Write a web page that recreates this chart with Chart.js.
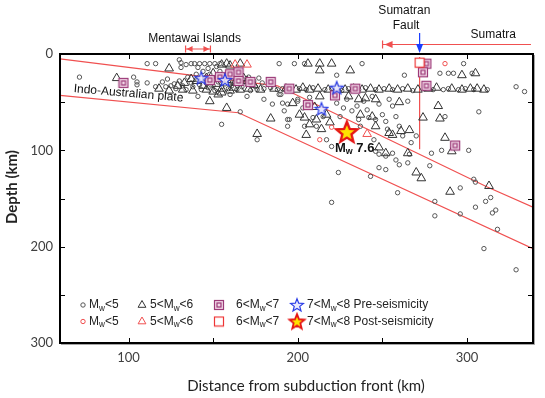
<!DOCTYPE html>
<html><head><meta charset="utf-8">
<script src="https://cdn.jsdelivr.net/npm/chart.js@4.4.1/dist/chart.umd.min.js"></script>
<style>html,body{margin:0;padding:0;background:#fff}canvas{display:block}</style>
</head><body>
<canvas id="c" width="545" height="398"></canvas>
<script>
// ---------- tick labels ----------
const xTickValues = [100, 150, 200, 250, 300];
const xTickLabels = {100: '100', 200: '200', 300: '300'};
const yTickValues = [0, 50, 100, 150, 200, 250, 300];
const yTickLabels = {0: '0', 100: '100', 200: '200', 300: '300'};
const xTitle = 'Distance from subduction front (km)';
const yTitle = 'Depth (km)';

// ---------- plate boundary / fault lines [km, depth] ----------
const slabTop = [[59.5,5],[188,33],[312,138],[339,159]];
const slabBottom = [[59.5,43],[165,61],[339,202]];
const sumatranFault = [[272,3],[272,99]];

// ---------- Pre-seismicity ----------
const mw5Pre = [
 [71,24],[103,24],[105,29],[105,32],[111,30],[116,34],[122,34],[127,31],
 [111,10],[116,10],[130,6],[131,9],[131,14],
 [134,11],[137,10],[139,10],[142,10],[145,10],[148,10],[151,10],[154,10],[141,14],[147,15],[152,13],
 [189,10],[198,10],[204,10],[238,10],[298,10],
 [120,29],[123,26],[125,33],[128,36],[130,28],[132,33],[134,37],[135,24],[137,30],[138,34],[140,21],[141,27],
 [142,32],[143,37],[144,18],[145,25],[146,30],[147,35],[148,21],[149,27],[150,33],[151,38],[152,24],[153,29],
 [154,18],[155,34],[156,25],[157,31],[158,21],[159,36],[160,28],[161,33],[162,19],[163,25],[164,37],[165,31],
 [166,22],[167,34],[168,27],[170,31],[171,24],[172,38],[174,28],[175,34],[177,25],[179,30],
 [141,44],[155,73],[166,60],[160,42],[170,44],[176,89],[180,47],[185,52],[190,42],[194,52],[194,68],[194,75],[200,47],
 [176,37],[180,36],[184,35],[188,37],[191,36],[196,38],[201,36],[205,37],[209,35],[216,37],[220,36],[226,38],
 [230,36],[236,37],[240,35],[246,37],[251,36],[256,37],[262,36],[268,38],[275,36],[280,37],[286,37],[289,36],
 [295,37],[299,36],[304,37],[312,37],
 [223,22],[263,22],[284,20],[289,20],[292,20],[303,20],[329,34],[334,39],
 [189,42],[191,51],[192,59],[195,68],[200,49],[203,56],[204,75],[207,45],[209,66],[211,75],[215,65],[217,89],
 [220,96],[223,51],[225,65],[227,56],[229,47],[232,59],[235,54],[236,68],[237,75],[239,49],[241,58],[242,66],
 [244,44],[245,89],[246,68],[248,52],[250,63],[252,70],[253,78],[254,47],[256,54],[258,65],[260,75],[262,85],
 [265,49],[267,92],[270,85],
 [246,101],[248,104],[252,106],[256,103],[258,110],[260,115],[266,104],[265,113],
 [224,123],[243,127],[248,118],[252,120],[279,103],[278,116],[285,100],[301,100],[304,130],[307,60],[287,65],
 [220,154],[259,144],[281,153],[281,168],[296,166],[305,159],[311,153],[314,149],[315,165],[317,162],
 [318,182],[310,202],[329,224],[296,139],[305,133]
];
const mw56Pre = [
 [93,25],[124,15],
 [155,11],[158,10],[160,12],[166,10],[206,10],[213,10],[220,10],[213,17],[231,17],[297,22],[305,20],
 [140,28],[146,25],[152,31],[158,27],[163,30],[168,25],[150,20],[144,33],[155,40],[133,30],[137,26],[129,33],
 [162,35],[170,28],[174,32],
 [118,36],[124,38],[132,37],[138,38],[146,37],[150,39],[155,36],[160,38],[166,37],[171,36],[178,37],[186,36],
 [193,36],[199,37],[203,35],[207,37],[212,36],[218,37],[223,36],[228,37],[233,36],[238,37],[243,36],[248,37],
 [254,36],[259,37],[265,36],[271,37],[277,36],[282,35],[291,36],[297,37],[302,36],[306,36],[310,37],
 [148,49],[153,42],[158,56],[184,67],[176,83],[205,84],
 [197,51],[201,63],[204,66],[210,55],[213,44],[217,63],[222,44],[230,44],[236,47],[240,46],[246,47],[260,50],
 [211,68],[214,78],[219,71],[207,73],[237,63],[244,65],[246,75],[254,82],[256,84],[261,80],[266,79],
 [248,97],[252,103],[265,103],
 [270,123],[273,129],[274,66],[283,54],[284,67],[287,87],[291,101],[290,143],[313,137]
];
const mw67Pre = [[97,30],[148,27],[154,24],[160,21],[165,19],[165,28],[172,29],[184,29],[195,36],[206,53],
 [222,43],[234,36],[276,10],[274,19],[276,33],[293,95]];
const mw78Pre = [[143,25],[157,27],[223,35],[214,57]];

// ---------- Post-seismicity ----------
const mw5Post = [[287,10],[220,76],[213,89]];
const mw56Post = [[163,11],[170,11],[241,83]];
const mw67Post = [[272,9]];
const mw78Post = [[229,81]];

// ---------- texts ----------
const legendRows = [
 [['M',{sub:'w'},'<5'], ['5<M',{sub:'w'},'<6'], ['6<M',{sub:'w'},'<7'], ['7<M',{sub:'w'},'<8 Pre-seismicity']],
 [['M',{sub:'w'},'<5'], ['5<M',{sub:'w'},'<6'], ['6<M',{sub:'w'},'<7'], ['7<M',{sub:'w'},'<8 Post-seismicity']]
];
const plateLabel = 'Indo-Australian plate';
const quakeLabel = ['M',{sub:'w'},' 7.6'];

const FONT = "'Liberation Sans', Arial, sans-serif";
const RED = '#f05050';

function starPath(g, cx, cy, R, r){
  g.beginPath();
  for (let i=0;i<10;i++){
    const a=-Math.PI/2+i*Math.PI/5, rr=i%2?r:R;
    const x=cx+rr*Math.cos(a), y=cy+rr*Math.sin(a);
    i?g.lineTo(x,y):g.moveTo(x,y);
  }
  g.closePath();
}
function mkImg(w,h,fn){const c=document.createElement('canvas');c.width=w;c.height=h;fn(c.getContext('2d'));return c;}
const imgDblSq = mkImg(12,12,g=>{g.fillStyle='#f3d9e8';g.fillRect(1.5,1.5,9,9);g.strokeStyle='#9c3a78';g.lineWidth=1.2;g.strokeRect(1.5,1.5,9,9);g.strokeRect(4,4,4,4);});
const imgRedSq = mkImg(12,12,g=>{g.fillStyle='#fff';g.fillRect(1.5,1.5,9,9);g.strokeStyle='#ee3535';g.lineWidth=1.2;g.strokeRect(1.5,1.5,9,9);});
const imgBlueStar = mkImg(16,16,g=>{starPath(g,8,8.5,6.8,2.9);g.fillStyle='rgba(228,228,255,0.85)';g.fill();g.strokeStyle='#2b3de6';g.lineWidth=1.2;g.stroke();});
const imgPostStar = mkImg(26,26,g=>{starPath(g,13,13.8,11,4.8);g.fillStyle='#ffe400';g.fill();g.strokeStyle='#e51515';g.lineWidth=2.4;g.lineJoin='miter';g.stroke();});
const imgPostStarSmall = mkImg(20,20,g=>{starPath(g,10,10.6,8,3.5);g.fillStyle='#ffe400';g.fill();g.strokeStyle='#e51515';g.lineWidth=1.8;g.stroke();});

const pts = a => a.map(([x,y])=>({x,y}));
function lineDs(d){return {data:pts(d),showLine:true,borderColor:RED,borderWidth:1.2,pointRadius:0,order:100,clip:0};}
function ptDs(d,style,r,col,bg,order){
  return {data:pts(d),showLine:false,pointStyle:style,pointRadius:r,pointHoverRadius:r,
    pointBorderColor:col,pointBackgroundColor:bg,pointBorderWidth:1,order:order};
}

function drawRich(g, x, y, segs, size, weight){
  let cx=x;
  g.textAlign='left'; g.textBaseline='middle';
  for (const s of segs){
    const sub=typeof s==='object', t=sub?s.sub:s, fs=sub?size*0.68:size;
    g.font=`${weight||'normal'} ${fs}px ${FONT}`;
    g.fillText(t, cx, y+(sub?size*0.3:0));
    cx+=g.measureText(t).width;
  }
}

const deco = {
  id:'deco',
  afterDatasetsDraw(chart){
    const g=chart.ctx, a=chart.chartArea, xs=chart.scales.x, ys=chart.scales.y;
    g.save();
    // frame
    g.strokeStyle='#000'; g.lineWidth=2;
    g.strokeRect(a.left, a.top, a.right-a.left, a.bottom-a.top);
    g.strokeStyle='rgba(0,0,0,0.35)'; g.lineWidth=1;
    g.beginPath(); g.moveTo(a.right+1.5,a.top+1); g.lineTo(a.right+1.5,a.bottom+1.5); g.lineTo(a.left+1,a.bottom+1.5); g.stroke();
    // inward ticks
    g.strokeStyle='#000'; g.lineWidth=1;
    g.beginPath();
    xTickValues.forEach(v=>{const p=Math.round(xs.getPixelForValue(v))+0.5;
      g.moveTo(p,a.bottom);g.lineTo(p,a.bottom-5);g.moveTo(p,a.top);g.lineTo(p,a.top+5);});
    yTickValues.filter(v=>v>0&&v<300).forEach(v=>{const p=Math.round(ys.getPixelForValue(v))+0.5;
      g.moveTo(a.left,p);g.lineTo(a.left+5,p);g.moveTo(a.right,p);g.lineTo(a.right-5,p);});
    g.stroke();

    // axis titles
    g.fillStyle='#222'; g.textAlign='center'; g.textBaseline='middle';
    g.font="15px Lato, sans-serif";
    g.fillText(xTitle, a.left+246, a.bottom+43);
    g.save(); g.translate(12, a.top+133); g.rotate(-Math.PI/2);
    g.font="bold 15px Lato, sans-serif"; g.fillText(yTitle,0,0); g.restore();

    // plate label
    g.fillStyle='#111';
    g.save();
    g.translate(xs.getPixelForValue(100), ys.getPixelForValue(41));
    g.rotate(0.085);
    g.font=`12px ${FONT}`; g.textAlign='center'; g.textBaseline='middle';
    g.fillText(plateLabel,0,0);
    g.restore();
    // Mw 7.6 label
    drawRich(g, xs.getPixelForValue(222), ys.getPixelForValue(97.5), quakeLabel, 13, 'bold');

    // legend
    const rowsY=[a.bottom-38, a.bottom-21.5];
    const mk=[a.left+23, a.left+82, a.left+159, a.left+237];
    const tx=[a.left+29, a.left+90, a.left+176, a.left+247];
    rowsY.forEach((y,ri)=>{
      const col = ri===0 ? '#555' : RED;
      g.strokeStyle=col; g.lineWidth=1; g.beginPath(); g.arc(mk[0],y,2.2,0,Math.PI*2); g.stroke();
      g.strokeStyle=ri===0?'#333':RED; g.beginPath();
      g.moveTo(mk[1],y-4.5); g.lineTo(mk[1]+3.9,y+2.3); g.lineTo(mk[1]-3.9,y+2.3); g.closePath(); g.stroke();
      const sq = ri===0?imgDblSq:imgRedSq; g.drawImage(sq, mk[2]-6, y-6);
      const st = ri===0?imgBlueStar:imgPostStarSmall; g.drawImage(st, mk[3]-st.width/2, y-st.height/2);
      g.fillStyle='#222';
      legendRows[ri].forEach((segs,i)=>drawRich(g, tx[i], y, segs, 12));
    });

    // top annotations
    g.fillStyle='#111'; g.font=`12px ${FONT}`; g.textAlign='center'; g.textBaseline='middle';
    g.fillText('Mentawai Islands', xs.getPixelForValue(139), a.top-15);
    g.fillText('Sumatran', xs.getPixelForValue(263), a.top-43.5);
    g.fillText('Fault', xs.getPixelForValue(264), a.top-28);
    g.fillText('Sumatra', xs.getPixelForValue(315.5), a.top-19);

    const m1=xs.getPixelForValue(133.7), m2=xs.getPixelForValue(148.4), my=a.top-5;
    g.strokeStyle=RED; g.fillStyle=RED; g.lineWidth=1.2;
    g.beginPath(); g.moveTo(m1,my); g.lineTo(m2,my);
    g.moveTo(m1,my-3.5); g.lineTo(m1,my+3.5); g.moveTo(m2,my-3.5); g.lineTo(m2,my+3.5); g.stroke();
    g.beginPath(); g.moveTo(m1+1,my); g.lineTo(m1+7,my-3); g.lineTo(m1+7,my+3); g.closePath(); g.fill();
    g.beginPath(); g.moveTo(m2-1,my); g.lineTo(m2-7,my-3); g.lineTo(m2-7,my+3); g.closePath(); g.fill();

    const s1=xs.getPixelForValue(250.1), s2=xs.getPixelForValue(337.8), sy=a.top-9.5;
    g.beginPath(); g.moveTo(s1,sy); g.lineTo(s2,sy); g.moveTo(s1,sy-4); g.lineTo(s1,sy+4); g.stroke();
    g.beginPath(); g.moveTo(s1+2,sy); g.lineTo(s1+10,sy-3.5); g.lineTo(s1+10,sy+3.5); g.closePath(); g.fill();

    const fx=xs.getPixelForValue(272);
    g.strokeStyle='#1a3cff'; g.fillStyle='#1a3cff'; g.lineWidth=1.2;
    g.beginPath(); g.moveTo(fx,a.top-21); g.lineTo(fx,a.top-6); g.stroke();
    g.beginPath(); g.moveTo(fx,a.top-1); g.lineTo(fx-3.5,a.top-10); g.lineTo(fx+3.5,a.top-10); g.closePath(); g.fill();
    g.restore();
  }
};

new Chart(document.getElementById('c'), {
  type:'scatter',
  data:{datasets:[
    lineDs(slabTop), lineDs(slabBottom), lineDs(sumatranFault),
    ptDs(mw5Pre,'circle',2.2,'#555','rgba(255,255,255,0)',90),
    ptDs(mw56Pre,'triangle',5,'#333','rgba(255,255,255,0)',80),
    ptDs(mw5Post,'circle',2.2,RED,'rgba(255,255,255,0)',70),
    ptDs(mw56Post,'triangle',5,RED,'rgba(255,255,255,0)',60),
    ptDs(mw67Pre,imgDblSq,6,'#9c3a78','#fff',50),
    ptDs(mw67Post,imgRedSq,6,RED,'#fff',40),
    ptDs(mw78Pre,imgBlueStar,7,'#2b3de6','#fff',30),
    ptDs(mw78Post,imgPostStar,11,'#e51515','#ffe400',20)
  ]},
  options:{
    responsive:false, devicePixelRatio:1, animation:false,
    layout:{padding:{top:54,right:7,bottom:0,left:0}},
    plugins:{legend:{display:false},tooltip:{enabled:false}},
    events:[],
    scales:{
      x:{type:'linear',min:59.5,max:339,
        afterBuildTicks:s=>{s.ticks=xTickValues.map(v=>({value:v}));},
        afterFit:s=>{s.height=55;},
        grid:{display:false,drawTicks:false},border:{display:false},
        ticks:{autoSkip:false,maxRotation:0,padding:7,color:'#404040',font:{family:'Lato',size:13},
          callback:v=>xTickLabels[v]||''},
        title:{display:false}
      },
      y:{type:'linear',reverse:true,min:0,max:300,
        afterBuildTicks:s=>{s.ticks=yTickValues.map(v=>({value:v}));},
        afterFit:s=>{s.width=60;},
        grid:{display:false,drawTicks:false},border:{display:false},
        ticks:{autoSkip:false,padding:7,color:'#404040',font:{family:'Lato',size:13},
          callback:v=>(v in yTickLabels)?yTickLabels[v]:''},
        title:{display:false}
      }
    }
  },
  plugins:[deco]
});
</script>
</body></html>
